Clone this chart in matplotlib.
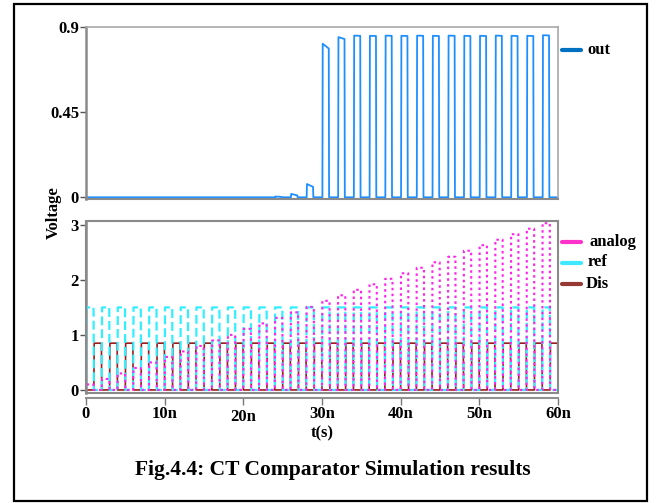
import numpy as np
import matplotlib
matplotlib.use("Agg")
import matplotlib.pyplot as plt
from matplotlib.lines import Line2D
from matplotlib.patches import Rectangle

plt.rcParams['font.family'] = ['Liberation Serif', 'DejaVu Serif']
plt.rcParams['font.weight'] = 'bold'

# ---------------- data ----------------
period_ns = 2.0
n_cycles = 30
# analog pulse height in each clock cycle (V)
analog_levels = [0.10, 0.20, 0.30, 0.40, 0.50, 0.60, 0.70, 0.80, 0.90, 1.00,
                 1.11, 1.21, 1.31, 1.41, 1.51, 1.62, 1.72, 1.82, 1.92, 2.02,
                 2.12, 2.22, 2.32, 2.42, 2.53, 2.63, 2.73, 2.83, 2.93, 3.03]
ref_level = 1.5
dis_level = 0.85
# comparator output: value at start and end of each evaluation window (V)
out_start = [0.0] * 12 + [0.004, 0.018, 0.070, 0.810, 0.845, 0.853, 0.852, 0.853,
                          0.852, 0.853, 0.852, 0.853, 0.852, 0.852, 0.853, 0.852,
                          0.852, 0.855]
out_end = [0.0] * 12 + [0.002, 0.010, 0.055, 0.785, 0.835, 0.852, 0.851, 0.852,
                        0.851, 0.852, 0.851, 0.852, 0.851, 0.851, 0.852, 0.851,
                        0.851, 0.854]
out_window = (0.05, 0.90)   # within-cycle high window of out (ns)
ref_window = (0.0, 1.0)     # within-cycle high window of ref / analog (ns)
dis_window = (1.0, 2.0)     # within-cycle high window of Dis (ns)
edge = 0.04                 # transition time (ns)

xticks = [0, 10, 20, 30, 40, 50, 60]
xticklabels = ['0', '10n', '20n', '30n', '40n', '50n', '60n']
top_yticks = [0, 0.45, 0.9]
top_yticklabels = ['0', '0.45', '0.9']
bot_yticks = [0, 1, 2, 3]


def pulses(starts, ends, win):
    t, v = [0.0], [0.0]
    for k in range(n_cycles):
        t0 = k * period_ns + win[0]
        t1 = k * period_ns + win[1]
        a, b = starts[k], ends[k]
        t += [t0, t0 + edge, t1 - edge, t1]
        v += [0.0, a, b, 0.0]
    t.append(n_cycles * period_ns)
    v.append(0.0)
    return np.array(t), np.array(v)


t_an, v_an = pulses(analog_levels, analog_levels, ref_window)
t_ref, v_ref = pulses([ref_level] * n_cycles, [ref_level] * n_cycles, ref_window)
t_dis, v_dis = pulses([dis_level] * n_cycles, [dis_level] * n_cycles, dis_window)
t_out, v_out = pulses(out_start, out_end, out_window)

# ---------------- figure ----------------
W, H = 659, 503
fig = plt.figure(figsize=(W / 100, H / 100), dpi=100)

def fx(px):
    return px / W

def fy(py):
    return 1 - py / H

frame_col = '#8a8a8a'

ax1 = fig.add_axes([fx(86), fy(199), fx(558) - fx(86), fy(26.7) - fy(199)])
ax2 = fig.add_axes([fx(86), fy(392.7), fx(558) - fx(86), fy(221) - fy(392.7)])

# top: out
ax1.plot(t_out, v_out, color='#1f8fff', lw=1.3)
ax1.set_xlim(0, 60)
ax1.set_ylim(-0.009, 0.9)
ax1.set_xticks([])
ax1.set_yticks(top_yticks)
ax1.set_yticklabels(top_yticklabels)

# bottom: analog, ref, Dis
ax2.plot(t_dis, v_dis, color='#9b1c1c', lw=1.2, zorder=2)
ax2.plot(t_ref, v_ref, color='#33eeff', lw=1.6, dashes=(4, 1.8), zorder=3)
ax2.plot(t_an, v_an, color='#ff22ee', lw=1.5, dashes=(1.2, 1.6), zorder=4)
ax2.set_xlim(0, 60)
ax2.set_ylim(-0.05, 3.07)
ax2.set_yticks(bot_yticks)
ax2.set_xticks(xticks)
ax2.set_xticklabels(xticklabels)

for ax in (ax1, ax2):
    for s in ('top', 'right'):
        ax.spines[s].set_color('#a8a8a8')
        ax.spines[s].set_linewidth(1.2)
    ax.spines['left'].set_color(frame_col)
    ax.spines['left'].set_linewidth(1.8)
    ax.spines['bottom'].set_color(frame_col)
    ax.spines['bottom'].set_linewidth(1.5)
    ax.tick_params(axis='y', direction='out', length=4, width=1, color='#555555',
                   labelsize=12, pad=1)
    for lab in ax.get_yticklabels():
        lab.set_fontweight('bold')

# bottom axis line offset with ticks pointing down
ax2.add_patch(Rectangle((0, 0), 1, 1, transform=ax2.transAxes, fill=False,
                        edgecolor=frame_col, lw=1.5, clip_on=False, zorder=5))
ax2.spines['bottom'].set_position(('outward', 3.5))
ax2.spines['bottom'].set_color('#909090')
ax2.tick_params(axis='x', direction='out', length=5, width=1, color='#777777',
                labelsize=12, pad=1)
for lab in ax2.get_xticklabels():
    lab.set_fontweight('bold')
ax2.xaxis.get_major_ticks()[2].set_pad(3.5)

# labels
fig.text(fx(54), fy(212.5), 'Voltage', rotation=90, ha='center', va='center',
         fontsize=12, fontweight='bold')
fig.text(fx(322), fy(433), 't(s)', ha='center', va='center', fontsize=12,
         fontweight='bold')
fig.text(fx(333), fy(470), 'Fig.4.4: CT Comparator Simulation results',
         ha='center', va='center', fontsize=15.5, fontweight='bold')

# legends
def leg(y, color, label, xt):
    fig.add_artist(Line2D([fx(562), fx(581)], [fy(y), fy(y)], color=color, lw=3,
                          transform=fig.transFigure, solid_capstyle='round'))
    fig.text(fx(xt), fy(y), label, ha='left', va='center', fontsize=12,
             fontweight='bold')

leg(49.5, '#0070c0', 'out', 587)
leg(241.5, '#ff33cc', 'analog', 590)
leg(262.5, '#40e8ff', 'ref', 588)
leg(283.5, '#963a34', 'Dis', 586)

# outer border
fig.add_artist(Rectangle((fx(13.5), fy(500.5)), fx(647) - fx(13.5), fy(3.5) - fy(500.5),
                         transform=fig.transFigure, fill=False, edgecolor='black',
                         lw=1.6))

fig.savefig('out.png', dpi=100)
